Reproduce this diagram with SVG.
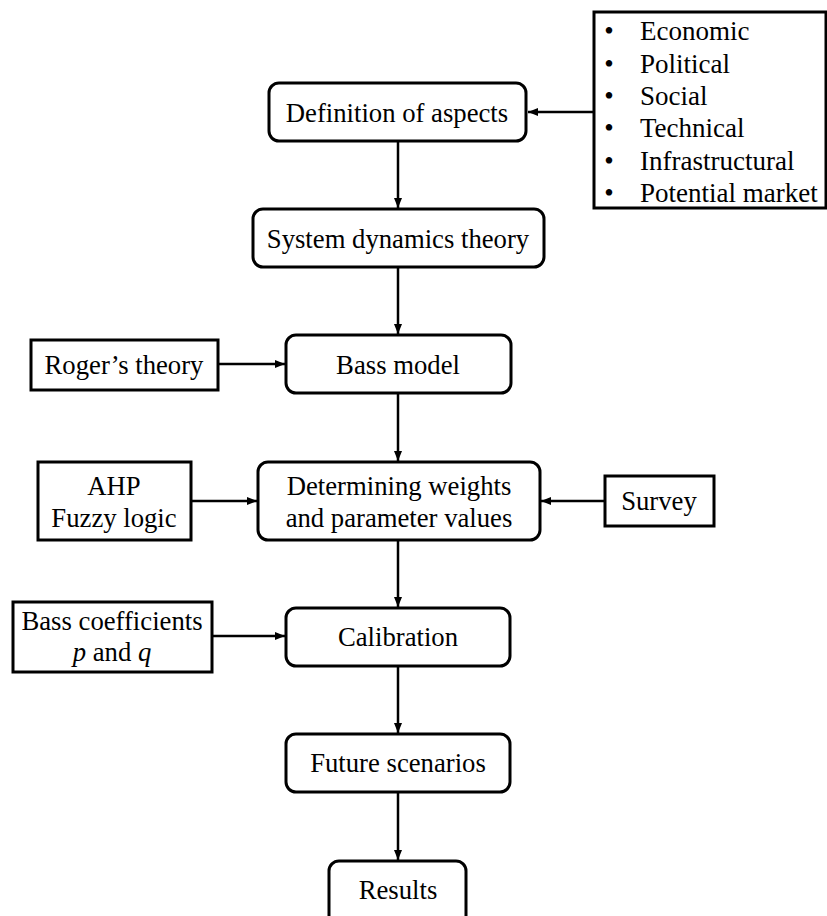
<svg xmlns="http://www.w3.org/2000/svg" width="827" height="916" viewBox="0 0 827 916" font-family="'Liberation Serif', 'Times New Roman', 'DejaVu Serif', serif">
  <style>
    .box { fill: #ffffff; stroke: #000000; stroke-width: 3; }
    text { font-family: 'Liberation Serif', 'Times New Roman', 'DejaVu Serif', serif; font-size: 26.7px; fill: #000000; }
    .item { font-size: 27px; }
    .c { text-anchor: middle; }
    .link { stroke: #000000; stroke-width: 2.5; fill: none; marker-end: url(#head); }
  </style>
  <defs>
    <marker id="head" viewBox="0 0 10 8" refX="10" refY="4" markerWidth="10" markerHeight="8" markerUnits="userSpaceOnUse" orient="auto">
      <path d="M0,0 L10,4 L0,8 Z" fill="#000000"/>
    </marker>
  </defs>
  <rect width="827" height="916" fill="#ffffff"/>

  <!-- connectors -->
  <g id="connectors">
    <line class="link" x1="594" y1="112" x2="528" y2="112"/>
    <line class="link" x1="398" y1="141" x2="398" y2="208"/>
    <line class="link" x1="398" y1="267" x2="398" y2="334"/>
    <line class="link" x1="218" y1="364" x2="285" y2="364"/>
    <line class="link" x1="398" y1="393" x2="398" y2="461"/>
    <line class="link" x1="191" y1="501" x2="257" y2="501"/>
    <line class="link" x1="605" y1="501" x2="541" y2="501"/>
    <line class="link" x1="398" y1="540" x2="398" y2="607"/>
    <line class="link" x1="212" y1="636" x2="285" y2="636"/>
    <line class="link" x1="398" y1="666" x2="398" y2="733"/>
    <line class="link" x1="398" y1="792" x2="398" y2="860"/>
  </g>

  <!-- aspect list -->
  <g id="aspects-list">
    <rect class="box" x="594" y="12" width="232" height="196"/>
    <text class="item c" x="609" y="40">•</text><text class="item" x="640" y="40">Economic</text>
    <text class="item c" x="609" y="73">•</text><text class="item" x="640" y="73">Political</text>
    <text class="item c" x="609" y="105">•</text><text class="item" x="640" y="105">Social</text>
    <text class="item c" x="609" y="137">•</text><text class="item" x="640" y="137">Technical</text>
    <text class="item c" x="609" y="170">•</text><text class="item" x="640" y="170">Infrastructural</text>
    <text class="item c" x="609" y="202">•</text><text class="item" x="640" y="202">Potential market</text>
  </g>

  <g id="definition">
    <rect class="box" x="269" y="83" width="257" height="58" rx="10"/>
    <text class="c" x="397" y="122">Definition of aspects</text>
  </g>

  <g id="system-dynamics">
    <rect class="box" x="253" y="209" width="291" height="58" rx="10"/>
    <text class="c" x="398" y="248">System dynamics theory</text>
  </g>

  <g id="rogers">
    <rect class="box" x="31" y="340" width="187" height="50"/>
    <text class="c" x="124" y="374">Roger’s theory</text>
  </g>

  <g id="bass-model">
    <rect class="box" x="286" y="335" width="225" height="58" rx="10"/>
    <text class="c" x="398" y="374">Bass model</text>
  </g>

  <g id="ahp">
    <rect class="box" x="38" y="462" width="153" height="78"/>
    <text class="c" x="114" y="495">AHP</text>
    <text class="c" x="114" y="527">Fuzzy logic</text>
  </g>

  <g id="weights">
    <rect class="box" x="258" y="462" width="282" height="78" rx="10"/>
    <text class="c" x="399" y="495">Determining weights</text>
    <text class="c" x="399" y="527">and parameter values</text>
  </g>

  <g id="survey">
    <rect class="box" x="605" y="476" width="109" height="50"/>
    <text class="c" x="659" y="510">Survey</text>
  </g>

  <g id="bass-coefficients">
    <rect class="box" x="13" y="602" width="199" height="70"/>
    <text class="c" x="112" y="630">Bass coefficients</text>
    <text class="c" x="112" y="661"><tspan font-style="italic">p</tspan> and <tspan font-style="italic">q</tspan></text>
  </g>

  <g id="calibration">
    <rect class="box" x="286" y="608" width="224" height="58" rx="10"/>
    <text class="c" x="398" y="646">Calibration</text>
  </g>

  <g id="future-scenarios">
    <rect class="box" x="286" y="734" width="224" height="58" rx="10"/>
    <text class="c" x="398" y="772">Future scenarios</text>
  </g>

  <g id="results">
    <rect class="box" x="329" y="861" width="137" height="70" rx="10"/>
    <text class="c" x="398" y="899">Results</text>
  </g>
</svg>
